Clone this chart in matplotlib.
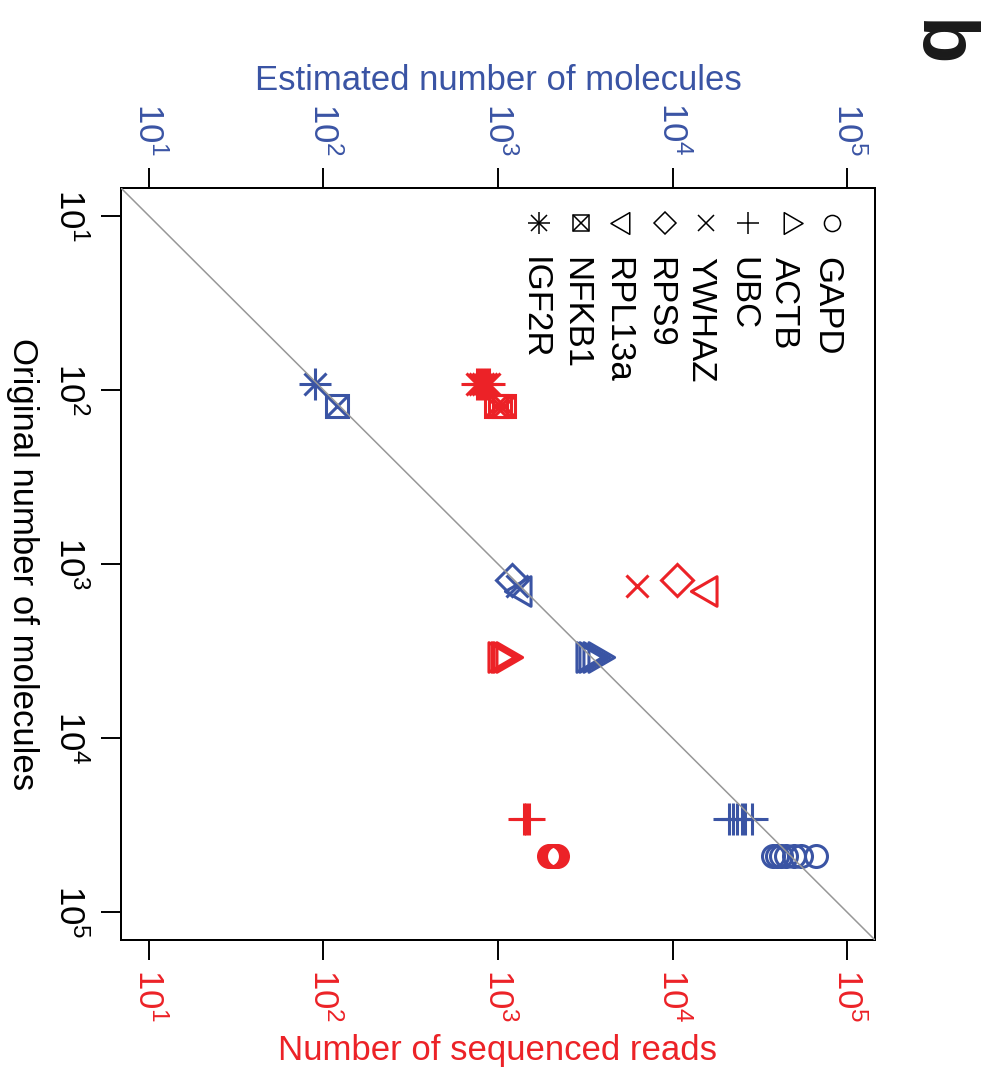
import numpy as np
import matplotlib
matplotlib.use("Agg")
import matplotlib.pyplot as plt
from matplotlib.path import Path
from matplotlib.ticker import FixedLocator, NullLocator, LogFormatterSciNotation

# ---------------- data ----------------
genes = ["GAPD", "ACTB", "UBC", "YWHAZ", "RPS9", "RPL13a", "NFKB1", "IGF2R"]
original_molecules = [47400, 3420, 29200, 1340, 1240, 1430, 124, 92]

reads_GAPD = [1970, 2010, 2050, 2090, 2130, 2170]
reads_ACTB = [990, 1020, 1050, 1090]
reads_UBC = [1400, 1450, 1500]
reads_YWHAZ = [6240]
reads_RPS9 = [10600]
reads_RPL13a = [16000]
reads_NFKB1 = [975, 1030, 1085]
reads_IGF2R = [760, 790, 820, 850, 890]

est_GAPD = [37650, 39700, 41850, 44750, 49750, 54600, 66500]
est_ACTB = [3160, 3300, 3450, 3680]
est_UBC = [21100, 22240, 23440, 25050, 26080, 28600]
est_YWHAZ = [1283]
est_RPS9 = [1205]
est_RPL13a = [1365]
est_NFKB1 = [120]
est_IGF2R = [90]

tick_values = [10, 100, 1000, 10000, 100000]
axis_limits = (10 ** 0.84, 10 ** 5.16)

reads_all = [reads_GAPD, reads_ACTB, reads_UBC, reads_YWHAZ, reads_RPS9,
             reads_RPL13a, reads_NFKB1, reads_IGF2R]
est_all = [est_GAPD, est_ACTB, est_UBC, est_YWHAZ, est_RPS9,
           est_RPL13a, est_NFKB1, est_IGF2R]

# ---------------- style ----------------
RED = "#ec2227"
BLUE = "#3a54a4"
GRAY = "#979797"
FONT = "Liberation Sans"
plt.rcParams["font.family"] = [FONT, "DejaVu Sans"]
plt.rcParams["mathtext.fontset"] = "custom"
plt.rcParams["mathtext.rm"] = FONT
plt.rcParams["mathtext.it"] = FONT + ":italic"
plt.rcParams["mathtext.bf"] = FONT + ":bold"

W, H = 984, 1072
fig = plt.figure(figsize=(W / 100, H / 100), dpi=100)
fig.subplots_adjust(left=121 / W, right=875 / W, bottom=1 - 940 / H, top=1 - 188 / H)
ax = fig.add_subplot(111)
ax_top = ax.twiny()

PX = 0.72  # points per pixel


def rtri(direction):
    # R-style triangle (centroid at the point), rotated
    if direction == "right":
        v = [(1, 0), (-0.5, 0.866), (-0.5, -0.866), (0, 0)]
    else:
        v = [(-1, 0), (0.5, 0.866), (0.5, -0.866), (0, 0)]
    return Path(v, [Path.MOVETO, Path.LINETO, Path.LINETO, Path.CLOSEPOLY])


def marker_parts(idx, s):
    """Return list of (marker, markersize_pt) for R pch idx+1 with char size s (px)."""
    r = 0.375 * s
    if idx == 0:
        return [("o", 2 * r * PX)]
    if idx == 1:
        return [(rtri("right"), 2 * 1.5551 * r * PX)]
    if idx == 2:
        return [("+", 2 * np.sqrt(2) * r * PX)]
    if idx == 3:
        return [("x", 2 * r * PX)]
    if idx == 4:
        return [("D", 2 * r * PX)]
    if idx == 5:
        return [(rtri("left"), 2 * 1.5551 * r * PX)]
    if idx == 6:
        return [("s", 2 * r * PX), ("x", 2 * r * PX)]
    return [("+", 2 * np.sqrt(2) * r * PX), ("x", 2 * r * PX)]


S_MAIN = 29.3
LW_MAIN = 2.2

for i, gene in enumerate(genes):
    yv = np.full(len(reads_all[i]), original_molecules[i])
    for mk, ms in marker_parts(i, S_MAIN):
        ax.plot(reads_all[i], yv, linestyle="none", marker=mk, ms=ms,
                mfc="none", mec=RED, mew=LW_MAIN, zorder=3)
    yv2 = np.full(len(est_all[i]), original_molecules[i])
    for mk, ms in marker_parts(i, S_MAIN):
        ax_top.plot(est_all[i], yv2, linestyle="none", marker=mk, ms=ms,
                    mfc="none", mec=BLUE, mew=LW_MAIN, zorder=3)

# identity line
ax_top.plot([axis_limits[0], axis_limits[1]], [axis_limits[0], axis_limits[1]],
            color=GRAY, lw=1.1, zorder=5)

for a in (ax, ax_top):
    a.set_xscale("log")
    a.set_xlim(*axis_limits)
    a.xaxis.set_major_locator(FixedLocator(tick_values))
    a.xaxis.set_minor_locator(NullLocator())
    a.xaxis.set_major_formatter(LogFormatterSciNotation())
    for sp in a.spines.values():
        sp.set_linewidth(1.4)
ax.set_yscale("log")
ax.set_ylim(axis_limits[1], axis_limits[0])
ax.yaxis.set_major_locator(FixedLocator(tick_values))
ax.yaxis.set_minor_locator(NullLocator())
ax.yaxis.set_major_formatter(LogFormatterSciNotation())

TL = 14.4
PAD = 8.6
ax.tick_params(axis="x", which="both", bottom=True, top=False, labelbottom=True,
               labeltop=False, direction="out", length=TL, width=1.4,
               labelsize=25, labelcolor=RED, pad=PAD - 2, labelrotation=-90)
ax.tick_params(axis="y", which="both", left=True, right=False, direction="out",
               length=TL, width=1.4, labelsize=25, labelcolor="black", pad=PAD + 2,
               labelrotation=-90)
ax_top.tick_params(axis="x", which="both", top=True, bottom=False, labeltop=True,
                   labelbottom=False, direction="out", length=TL, width=1.4,
                   labelsize=25, labelcolor=BLUE, pad=PAD, labelrotation=-90)

plt.setp(ax.get_xticklabels(), rotation_mode="default", ha="center", va="top")
plt.setp(ax_top.get_xticklabels(), rotation_mode="default", ha="center", va="bottom")
plt.setp(ax.get_yticklabels(), rotation_mode="default", ha="right", va="center")

# axis titles
ax.set_xlabel("Number of sequenced reads", color=RED, fontsize=25)
ax.xaxis.set_label_coords(0.5, (940 - 1034) / 752)
ax.xaxis.label.set_va("top")
ax_top.set_xlabel("Estimated number of molecules", color=BLUE, fontsize=25)
ax_top.xaxis.set_label_coords(0.5, 1 + (188 - 97) / 752)
ax_top.xaxis.label.set_va("bottom")
ax.set_ylabel("Original number of molecules", color="black", fontsize=25,
              rotation=-90, rotation_mode="anchor", ha="center", va="center")
ax.yaxis.set_label_coords((22 - 121) / 754, 0.5)

# legend (drawn rotated by hand)
S_LEG = 21.5
LW_LEG = 1.1
for i, gene in enumerate(genes):
    cx = 831.7 - 41.8 * i
    cy = 223
    for mk, ms in marker_parts(i, S_LEG):
        ax.plot([cx / W], [1 - cy / H], transform=fig.transFigure, clip_on=False,
                linestyle="none", marker=mk, ms=ms, mfc="none", mec="black",
                mew=LW_LEG, zorder=6)
    fig.text((cx - 14.7) / W, 1 - 257 / H, gene, rotation=-90, rotation_mode="anchor",
             ha="left", va="baseline", fontsize=25, color="black")

# panel letter
fig.text(918 / W, 1 - 44 / H, "b", rotation=-90, rotation_mode="anchor",
         ha="center", va="baseline", fontsize=56, fontweight="bold", color="#1a1a1a")

fig.savefig("out.png", dpi=100)
